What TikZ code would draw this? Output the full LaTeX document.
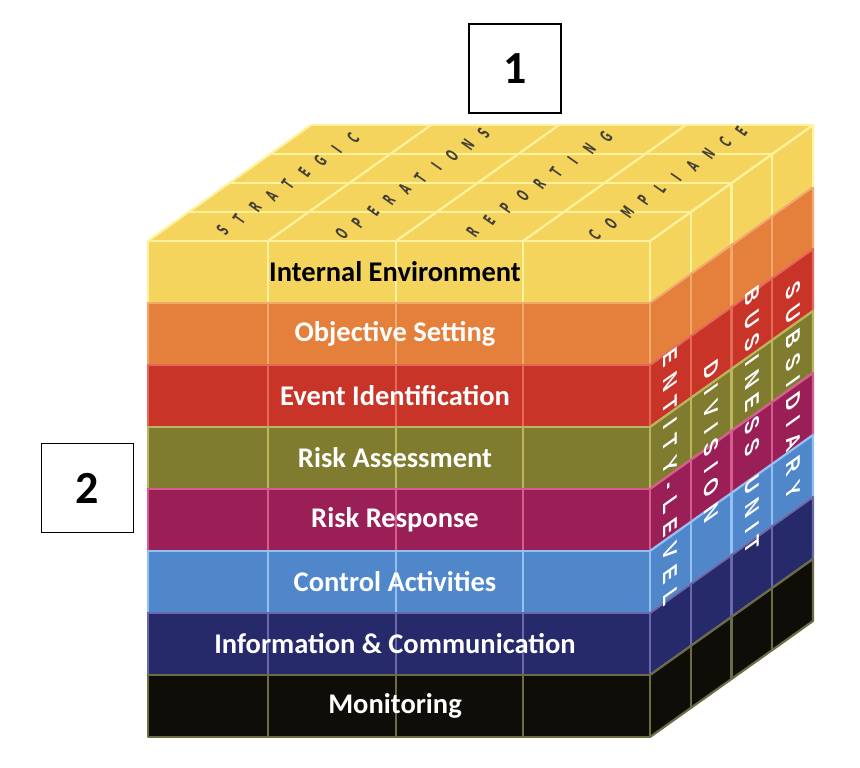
\documentclass[tikz,border=0pt]{standalone}
\usepackage{fontspec}
\setmainfont{Carlito}
\newfontfamily\capsfont{Liberation Sans}
\newfontfamily\topfont{DejaVu Sans}
\definecolor{cYel}{HTML}{F5D45E}
\definecolor{lYel}{HTML}{FFF29C}
\definecolor{cOra}{HTML}{E4803B}
\definecolor{lOra}{HTML}{F2A96C}
\definecolor{cRed}{HTML}{C93428}
\definecolor{lRed}{HTML}{E46A55}
\definecolor{cOli}{HTML}{7F7B2F}
\definecolor{lOli}{HTML}{BDB55E}
\definecolor{cMag}{HTML}{9B1F57}
\definecolor{lMag}{HTML}{D65C90}
\definecolor{cBlu}{HTML}{5087CB}
\definecolor{lBlu}{HTML}{92C0F2}
\definecolor{cNav}{HTML}{262A6A}
\definecolor{lNav}{HTML}{6A6AAA}
\definecolor{cBlk}{HTML}{0E0D08}
\definecolor{lBlk}{HTML}{6E6C45}
\makeatletter
\newcommand\spreadtxt[2]{\def\sp@k{#1}\sp@loop#2\relax\kern-\sp@k}
\def\sp@loop#1{\ifx\relax#1\else#1\kern\sp@k\expandafter\sp@loop\fi}
\makeatother
% one word on the top face, letter by letter: name, front x of column centre, f0, f1, n, letters
\newcommand\topword[6]{%
  \foreach \ch [count=\i] in {#6} {%
    \pgfmathsetmacro\ff{#3+(\i-1)*(#4-#3)/(#5-1)}%
    \node[topch] (#1\i) at (#2+163*\ff,241-116*\ff) {\ch};
  }}
\tikzset{
  gridline/.style={line width=2.2pt, line join=round},
  layertxt/.style={font=\bfseries\fontsize{28.5}{28.5}\selectfont, text=white, inner sep=0pt},
  topch/.style={font=\topfont\bfseries\fontsize{15.5}{15.5}\selectfont, text=black!85!yellow, inner sep=0pt, rotate=55, xscale=0.6, yscale=1.12},
  sidetxt/.style={font=\capsfont\bfseries\fontsize{20}{20}\selectfont, text=white, inner sep=0pt, transform shape},
  numbox/.style={draw=black, fill=white, line width=1.5pt, minimum width=92pt, minimum height=89pt, inner sep=0pt, font=\bfseries\fontsize{46}{46}\selectfont}
}
\begin{document}
\begin{tikzpicture}[x=1pt,y=-1pt]
\useasboundingbox (0,0) rectangle (860,768);
% layers (front + right face)
\foreach \k/\fc/\lc in {0/cYel/lYel,1/cOra/lOra,2/cRed/lRed,3/cOli/lOli,4/cMag/lMag,5/cBlu/lBlu,6/cNav/lNav,7/cBlk/lBlk}{
  \pgfmathsetmacro\yt{241+62*\k}
  \pgfmathsetmacro\yb{\yt+62}
  \fill[\fc] (148,\yt) rectangle (650,\yb);
  \fill[\fc] (650,\yt) -- ++(163,-116) -- ++(0,62) -- (650,\yb) -- cycle;
  \draw[gridline,\lc] (148,\yt) rectangle (650,\yb);
  \foreach \x in {268,396,523} \draw[gridline,\lc] (\x,\yt) -- (\x,\yb);
  \draw[gridline,\lc] (650,\yt) -- ++(163,-116) -- ++(0,62) -- (650,\yb);
  \foreach \j in {1,2,3} \draw[gridline,\lc] (650+40.75*\j,\yt-29*\j) -- ++(0,62);
}
% top face
\fill[cYel] (148,241) -- (650,241) -- (813,125) -- (311,125) -- cycle;
\foreach \j in {0,...,4} \draw[gridline,lYel] (148+40.75*\j,241-29*\j) -- ++(502,0);
\foreach \x in {148,268,396,523,650} \draw[gridline,lYel] (\x,241) -- ++(163,-116);
\draw[gridline,lYel] (813,125) -- (813,187);
% front labels
\node[layertxt, text=black] (l1) at (395,272) {Internal Environment};
\node[layertxt] (l2) at (395,334) {Objective Setting};
\node[layertxt] (l3) at (395,396) {Event Identification};
\node[layertxt] (l4) at (395,458) {Risk Assessment};
\node[layertxt] (l5) at (395,520) {Risk Response};
\node[layertxt] (l6) at (395,582) {Control Activities};
\node[layertxt] (l7) at (395,644) {Information \& Communication};
\node[layertxt] (l8) at (395,706) {Monitoring};
% top labels
\topword{tS}{208}{0.09}{0.89}{9}{S,T,R,A,T,E,G,I,C}
\topword{tO}{332}{0.06}{0.93}{10}{O,P,E,R,A,T,I,O,N,S}
\topword{tR}{459.5}{0.08}{0.90}{9}{R,E,P,O,R,T,I,N,G}
\topword{tC}{586.5}{0.05}{0.95}{10}{C,O,M,P,L,I,A,N,C,E}
% side labels
\begin{scope}[shift={(670,477)}, cm={0,-1,1,0.712,(0,0)}]
  \node[sidetxt] (s1) at (0,0) {\spreadtxt{10pt}{ENTITY-LEVEL}};
\end{scope}
\begin{scope}[shift={(711,441)}, cm={0,-1,1,0.712,(0,0)}]
  \node[sidetxt] (s2) at (0,0) {\spreadtxt{10pt}{DIVISION}};
\end{scope}
\begin{scope}[shift={(752,420)}, cm={0,-1,1,0.712,(0,0)}]
  \node[sidetxt] (s3) at (0,0) {\spreadtxt{9pt}{BUSINESS~UNIT}};
\end{scope}
\begin{scope}[shift={(793,390)}, cm={0,-1,1,0.712,(0,0)}]
  \node[sidetxt] (s4) at (0,0) {\spreadtxt{10pt}{SUBSIDIARY}};
\end{scope}
% number boxes
\node[numbox] (b1) at (515,68.5) {1};
\node[numbox] (b2) at (87.5,488) {2};
\end{tikzpicture}
\end{document}
